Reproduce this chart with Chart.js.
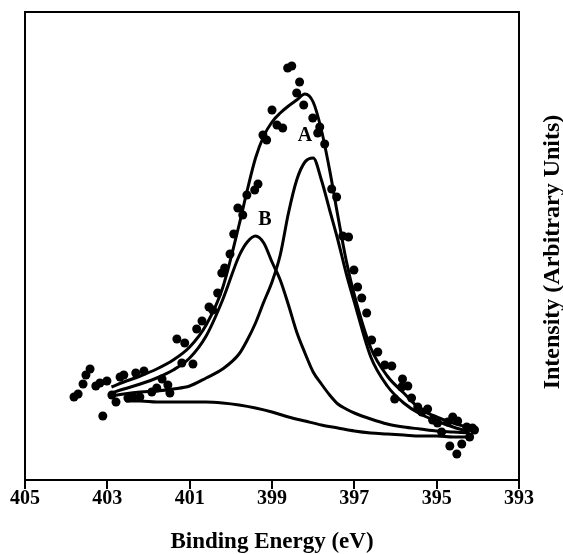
<!DOCTYPE html>
<html>
<head>
<meta charset="utf-8">
<script src="https://cdn.jsdelivr.net/npm/chart.js@4/dist/chart.umd.min.js"></script>
<style>
html,body{margin:0;padding:0;background:#fff;}
#wrap{width:563px;height:554px;}
</style>
</head>
<body>
<div id="wrap"><canvas id="c" width="563" height="554"></canvas></div>
<script>
// Measured XPS data points (binding energy, intensity in arbitrary units)
const dataE = [403.81,403.71,403.59,403.52,403.42,403.28,403.18,403.11,403.01,402.89,402.79,402.69,402.60,402.50,402.38,402.31,402.21,402.11,401.92,401.80,401.67,401.53,401.48,401.31,401.19,401.12,400.92,400.83,400.70,400.53,400.44,400.32,400.22,400.15,400.02,399.93,399.83,399.71,399.61,399.42,399.34,399.22,399.13,399.00,398.88,398.74,398.62,398.52,398.40,398.33,398.23,398.01,397.89,397.84,397.72,397.55,397.43,397.28,397.14,397.01,396.92,396.82,396.70,396.58,396.43,396.26,396.09,396.02,395.85,395.83,395.70,395.61,395.46,395.36,395.22,395.10,394.98,394.88,394.73,394.68,394.61,394.51,394.49,394.39,394.27,394.20,394.13,394.08];
const dataI = [83,86,96,105,111,94,97,64,99,85,78,103,105,82,83,107,83,109,88,92,101,95,87,141,117,137,116,151,159,173,170,187,207,212,226,246,272,265,285,290,296,345,340,370,355,352,412,414,387,398,375,362,347,353,336,291,283,244,243,210,193,182,167,140,128,115,114,81,93,101,94,82,73,68,71,60,57,48,58,34,63,26,59,36,53,43,52,50];

// Fitted curves
const curveE = [402.9,402.6,402.2,401.8,401.4,401.0,400.6,400.2,399.8,399.6,399.4,399.2,399.0,398.8,398.6,398.4,398.2,398.0,397.8,397.6,397.4,397.2,397.0,396.6,396.2,395.8,395.4,395.0,394.6,394.2];
const envelopeI = [93,98,104,111,120,133,155,192,255,290,322,344,358,367,374,380,386,378,350,310,264,220,185,132,104,87,71,63,57,52];
const peakAI = [84,86,88,89,91,94,102,111,126,140,157,178,198,225,267,300,318,322,300,270,240,207,178,123,94,77,66,59,53,48];
const peakBI = [87,91,96,102,110,122,144,180,224,238,244,237,218,200,175,148,127,108,96,85,76,71,67,61,56,53,51,49,48,47];
const bgE = [402.55,402.2,401.8,401.4,401.0,400.6,400.2,399.8,399.4,399.0,398.6,398.2,397.8,397.4,397.0,396.6,396.2,395.8,395.4,395.0,394.6,394.2];
const bgI = [79,79,78,78,78,78,77,75,72,68,63,59,55,52,49,47,46,45,44,44,43,43];

// Axis ticks and labels
const xTicks = [405,403,401,399,397,395,393];
const xTitle = 'Binding Energy (eV)';
const yTitle = 'Intensity (Arbitrary Units)';
const peakNames = ['A','B'];
const peakLabelE = [398.2, 399.17];
const peakLabelI = [344, 260];

const pts = (xs, ys) => xs.map((x, i) => ({x: x, y: ys[i]}));
const lineDs = (label, xs, ys) => ({
  label: label, data: pts(xs, ys), showLine: true, pointRadius: 0,
  borderColor: '#000', borderWidth: 3, cubicInterpolationMode: 'monotone', fill: false
});

const extrasPlugin = {
  id: 'extras',
  afterDraw(chart) {
    const c = chart.ctx, a = chart.chartArea;
    c.save();
    c.strokeStyle = '#000';
    c.lineWidth = 2;
    c.strokeRect(a.left, a.top, a.right - a.left, a.bottom - a.top);
    c.fillStyle = '#000';
    c.font = 'bold 20px "Liberation Serif"';
    c.textAlign = 'center';
    c.textBaseline = 'middle';
    const xs = chart.scales.x, ys = chart.scales.y;
    peakNames.forEach((n, i) => {
      c.fillText(n, xs.getPixelForValue(peakLabelE[i]), ys.getPixelForValue(peakLabelI[i]));
    });
    c.translate(a.right + 34, 252);
    c.rotate(-Math.PI / 2);
    c.font = 'bold 24px "Liberation Serif"';
    c.fillText(yTitle, 0, 0);
    c.restore();
  }
};

new Chart(document.getElementById('c'), {
  type: 'scatter',
  data: {
    datasets: [
      {label: 'Data', data: pts(dataE, dataI), showLine: false, pointRadius: 4.5,
       pointBackgroundColor: '#000', pointBorderWidth: 0, backgroundColor: '#000'},
      lineDs('Envelope', curveE, envelopeI),
      lineDs('Peak A', curveE, peakAI),
      lineDs('Peak B', curveE, peakBI),
      lineDs('Background', bgE, bgI)
    ]
  },
  options: {
    responsive: false,
    animation: false,
    devicePixelRatio: 1,
    layout: {padding: {left: 25, right: 44, top: 12, bottom: 0}},
    plugins: {legend: {display: false}, tooltip: {enabled: false}},
    scales: {
      x: {
        type: 'linear', reverse: true, min: 393, max: 405,
        afterBuildTicks: axis => { axis.ticks = xTicks.map(v => ({value: v})); },
        ticks: {color: '#000', padding: -2, maxRotation: 0, font: {family: 'Liberation Serif', weight: 'bold', size: 20}},
        grid: {drawOnChartArea: false, drawTicks: true, tickLength: 9, color: '#000', lineWidth: 2},
        border: {display: true, color: '#000', width: 2},
        title: {display: true, text: xTitle, color: '#000', padding: {top: 22, bottom: 0},
                font: {family: 'Liberation Serif', weight: 'bold', size: 23, lineHeight: 1.0}}
      },
      y: {
        min: 0, max: 468,
        ticks: {display: false},
        grid: {display: false, drawTicks: false},
        border: {display: true, color: '#000', width: 2}
      }
    }
  },
  plugins: [extrasPlugin]
});
</script>
</body>
</html>
